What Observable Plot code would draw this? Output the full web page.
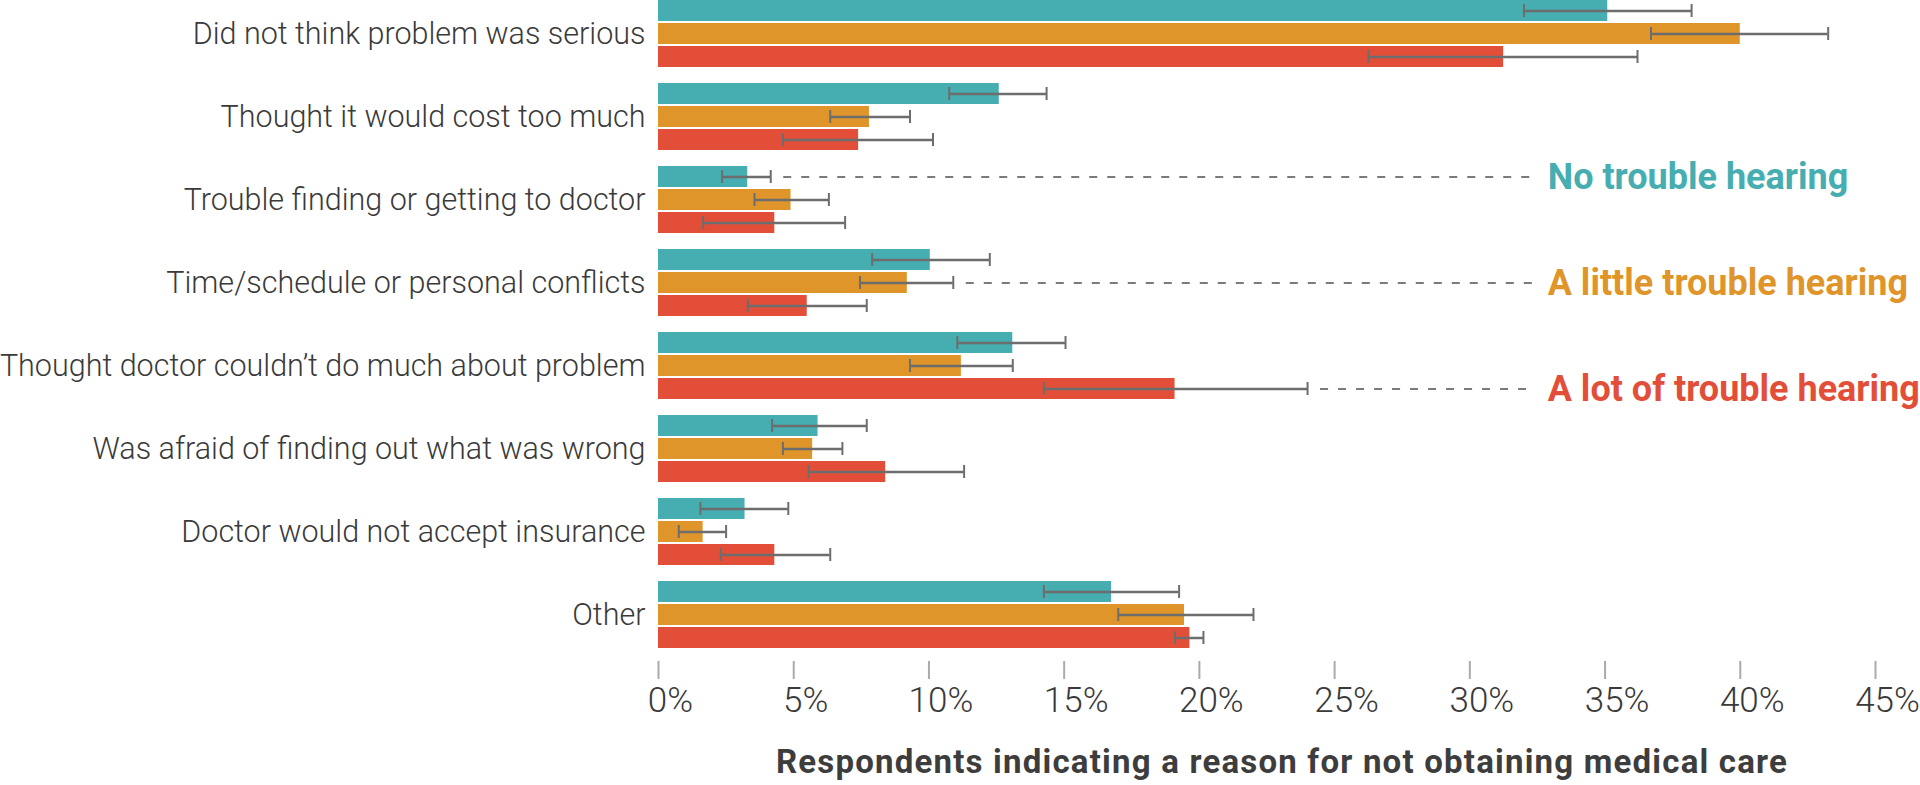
<!DOCTYPE html>
<html><head><meta charset="utf-8">
<script src="https://cdn.jsdelivr.net/npm/d3@7"></script>
<script src="https://cdn.jsdelivr.net/npm/@observablehq/plot@0.6"></script>
<style>
html,body{margin:0;padding:0;background:#fff;}
#wrap{position:relative;width:1920px;height:785px;overflow:hidden;background:#fff;}
#title{position:absolute;left:1282px;top:745px;transform:translateX(-50%);white-space:nowrap;font-family:Roboto;font-weight:700;font-size:33px;line-height:33px;letter-spacing:1.2px;color:#3d3d3d;}
</style></head><body>
<div id="wrap"><div id="chart"></div><div id="title">Respondents indicating a reason for not obtaining medical care</div></div>
<script>
const categories = [
  "Did not think problem was serious",
  "Thought it would cost too much",
  "Trouble finding or getting to doctor",
  "Time/schedule or personal conflicts",
  "Thought doctor couldn\u2019t do much about problem",
  "Was afraid of finding out what was wrong",
  "Doctor would not accept insurance",
  "Other"
];
const series = ["No trouble hearing", "A little trouble hearing", "A lot of trouble hearing"];
const colors = ["#46adb0", "#df9529", "#e34e39"];

const noTrouble   = [35.1, 12.6, 3.3, 10.05, 13.1, 5.9, 3.2, 16.75];
const noTroubleLo = [32.0, 10.75, 2.35, 7.9, 11.05, 4.2, 1.55, 14.25];
const noTroubleHi = [38.2, 14.35, 4.15, 12.25, 15.05, 7.7, 4.8, 19.25];
const little      = [40.0, 7.8, 4.9, 9.2, 11.2, 5.7, 1.65, 19.45];
const littleLo    = [36.7, 6.35, 3.55, 7.45, 9.3, 4.6, 0.75, 17.0];
const littleHi    = [43.25, 9.3, 6.3, 10.9, 13.1, 6.8, 2.5, 22.0];
const lot         = [31.25, 7.4, 4.3, 5.5, 19.1, 8.4, 4.3, 19.65];
const lotLo       = [26.25, 4.6, 1.65, 3.3, 14.25, 5.55, 2.3, 19.1];
const lotHi       = [36.2, 10.15, 6.9, 7.7, 24.0, 11.3, 6.35, 20.15];

const xTicks = [0, 5, 10, 15, 20, 25, 30, 35, 40, 45];
const legendCategories = [categories[2], categories[3], categories[4]];

const values = [noTrouble, little, lot];
const los = [noTroubleLo, littleLo, lotLo];
const his = [noTroubleHi, littleHi, lotHi];

const rows = categories.flatMap((c, i) => series.map((s, j) => ({
  category: c, series: s, value: values[j][i], lo: los[j][i], hi: his[j][i]
})));
const legendRows = series.map((s, j) => rows.find(r => r.series === s && r.category === legendCategories[j]));
const legendX = 32.4;

const chart = Plot.plot({
  width: 1920,
  height: 730,
  marginLeft: 658,
  marginRight: 45,
  marginTop: 0,
  marginBottom: 68,
  style: {fontFamily: "Roboto", fontSize: "32px", color: "#3a3a3a", background: "white", overflow: "visible"},
  x: {domain: [0, 45]},
  fy: {domain: categories, paddingInner: 0.034, paddingOuter: 0, axis: null, label: null},
  y: {domain: series, paddingInner: 0.1, paddingOuter: 0.28, align: 0, axis: null, label: null},
  color: {domain: series, range: colors},
  marks: [
    Plot.barX(rows, {fy: "category", y: "series", x: "value", fill: "series"}),
    Plot.ruleY(rows, {fy: "category", y: "series", x1: "lo", x2: "hi", stroke: "#6d6d6d", strokeWidth: 2.5}),
    Plot.tickX(rows, {fy: "category", y: "series", x: "lo", stroke: "#6d6d6d", strokeWidth: 2, insetTop: 4, insetBottom: 4}),
    Plot.tickX(rows, {fy: "category", y: "series", x: "hi", stroke: "#6d6d6d", strokeWidth: 2, insetTop: 4, insetBottom: 4}),
    Plot.ruleY(legendRows, {fy: "category", y: "series", x1: "hi", x2: () => legendX, insetLeft: 13, stroke: "#7a7a7a", strokeWidth: 2, strokeDasharray: "8,10"}),
    Plot.text(legendRows, {fy: "category", y: "series", x: () => legendX, text: "series", fill: "series", textAnchor: "start", dx: 13, fontSize: 36, fontWeight: 700}),
    Plot.text(categories, {fy: d => d, y: () => series[1], x: () => 0, text: d => d, textAnchor: "end", dx: -13, fontSize: 30.5, fontWeight: 300, fill: "#3a3a3a"}),
    Plot.axisX({ticks: xTicks, tickSize: 18, tickFormat: () => "", stroke: "#aaaaaa", strokeWidth: 2, label: null}),
    Plot.axisX({ticks: xTicks, tickSize: 0, tickPadding: 26, dx: 12, tickFormat: d => d + "%", fontSize: 35, fontWeight: 300, fill: "#3a3a3a", label: null})
  ]
});
document.getElementById("chart").appendChild(chart);
</script>
</body></html>
